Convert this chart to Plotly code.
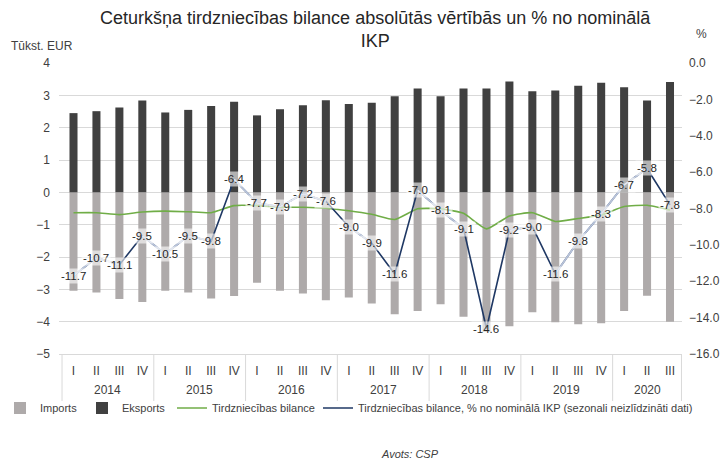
import plotly.graph_objects as go

years = ["2014"] * 4 + ["2015"] * 4 + ["2016"] * 4 + ["2017"] * 4 + ["2018"] * 4 + ["2019"] * 4 + ["2020"] * 3
quarters = (["I", "II", "III", "IV"] * 7)[:27]

exports = [2.45, 2.51, 2.62, 2.84, 2.47, 2.55, 2.67, 2.80, 2.38, 2.57, 2.69, 2.85, 2.73, 2.77,
           2.97, 3.21, 2.97, 3.21, 3.21, 3.43, 3.13, 3.15, 3.30, 3.39, 3.25, 2.84, 3.41]
imports = [-3.04, -3.10, -3.30, -3.39, -3.04, -3.10, -3.28, -3.21, -2.80, -3.04, -3.13, -3.34, -3.25, -3.44,
           -3.77, -3.67, -3.46, -3.85, -4.32, -4.14, -3.71, -4.02, -4.08, -4.05, -3.67, -3.20, -4.00]
balance = [-0.63, -0.63, -0.69, -0.61, -0.58, -0.60, -0.63, -0.41, -0.41, -0.46, -0.46, -0.49, -0.57, -0.68,
           -0.84, -0.51, -0.51, -0.65, -1.13, -0.73, -0.63, -0.90, -0.81, -0.70, -0.44, -0.40, -0.55]
balance_pct = [-11.7, -10.7, -11.1, -9.5, -10.5, -9.5, -9.8, -6.4, -7.7, -7.9, -7.2, -7.6, -9.0, -9.9,
               -11.6, -7.0, -8.1, -9.1, -14.6, -9.2, -9.0, -11.6, -9.8, -8.3, -6.7, -5.8, -7.8]

# segments of the % line that appear pale in the reference (style only)
pale_segments = [0, 1, 3, 4, 5, 7, 8, 9, 10, 12, 15, 16, 19, 21, 22, 23, 24]

FONT = "Liberation Sans Narrow, Arial Narrow, Liberation Sans, Arial, sans-serif"
TXT = "#404040"
GRID = "#d9d9d9"

cats = [f"{y} {q}" for y, q in zip(years, quarters)]

fig = go.Figure()
fig.add_trace(go.Bar(x=cats, y=imports, name="Imports", marker_color="#aeaaaa",
                     marker_line_width=0, yaxis="y", legend="legend"))
fig.add_trace(go.Bar(x=cats, y=exports, name="Eksports", marker_color="#404040",
                     marker_line_width=0, yaxis="y", legend="legend2"))
fig.add_trace(go.Scatter(x=cats, y=balance, name="Tirdzniecības bilance", mode="lines",
                         line=dict(color="#70ad47", width=1.6, shape="spline", smoothing=0.5),
                         yaxis="y", legend="legend3"))
fig.add_trace(go.Scatter(x=cats, y=balance_pct,
                         name="Tirdzniecības bilance, % no nominālā IKP (sezonali neizlīdzināti dati)",
                         mode="lines", line=dict(color="#1f3864", width=1.6), yaxis="y2",
                         legend="legend4"))

# pale overlay segments
px_c, py = [], []
for i in pale_segments:
    for j in (i, i + 1):
        px_c.append(cats[j]); py.append(balance_pct[j])
    px_c.append(cats[i + 1]); py.append(None)
fig.add_trace(go.Scatter(x=px_c, y=py, mode="lines", showlegend=False, hoverinfo="skip",
                         connectgaps=False, line=dict(color="#b9c4da", width=1.8), yaxis="y2"))

annots = []
for i, v in enumerate(balance_pct):
    annots.append(dict(x=i, y=v, xref="x", yref="y2", text=f"{v:.1f}", showarrow=False,
                       font=dict(family="Liberation Sans, Arial", size=11.5, color="#262626"),
                       bgcolor="rgba(255,255,255,0.6)", borderpad=1))

# plot area in pixels: x 58.5..682.3, y 63..354
def px2paper(px, py_):
    return (px - 58.5) / 623.8, (354 - py_) / 291.0

# year group labels and dividers, derived from the category list
shapes = []
groups = []
for i, y in enumerate(years):
    if not groups or groups[-1][0] != y:
        groups.append([y, i, i])
    else:
        groups[-1][2] = i
_, y_year = px2paper(0, 390)
_, y_div = px2paper(0, 401)
for y, a, b in groups:
    annots.append(dict(x=(a + b) / 2, y=y_year, xref="x", yref="paper", text=y, showarrow=False,
                       xanchor="center", yanchor="middle", font=dict(family=FONT, size=12, color=TXT)))
    shapes.append(dict(type="line", xref="x", yref="paper", x0=a - 0.5, x1=a - 0.5, y0=0, y1=y_div,
                       line=dict(color=GRID, width=1)))
shapes.append(dict(type="line", xref="x", yref="paper", x0=groups[-1][2] + 0.5, x1=groups[-1][2] + 0.5,
                   y0=0, y1=y_div, line=dict(color=GRID, width=1)))

tx, ty = px2paper(375, 30)
annots.append(dict(x=tx, y=ty, xref="paper", yref="paper", showarrow=False, xanchor="center",
                   yanchor="middle",
                   text="Ceturkšņa tirdzniecības bilance absolūtās vērtībās un % no nominālā<br>IKP",
                   font=dict(family="Liberation Sans, Arial", size=18, color="#262626")))
ax_, ay_ = px2paper(8, 46)
annots.append(dict(x=ax_, y=ay_, xref="paper", yref="paper", text="Tūkst. EUR", showarrow=False,
                   xanchor="left", yanchor="middle", font=dict(family=FONT, size=12, color=TXT)))
ax_, ay_ = px2paper(694, 34)
annots.append(dict(x=ax_, y=ay_, xref="paper", yref="paper", text="%", showarrow=False,
                   xanchor="left", yanchor="middle", font=dict(family=FONT, size=12, color=TXT)))
ax_, ay_ = px2paper(410, 454)
annots.append(dict(x=ax_, y=ay_, xref="paper", yref="paper", text="<i>Avots: CSP</i>",
                   showarrow=False, xanchor="center", yanchor="middle",
                   font=dict(family=FONT, size=11, color=TXT)))

def leg(text_x):
    return dict(orientation="h", x=(text_x - 40) / 722, xanchor="left", y=1 - 408 / 459,
                yanchor="middle", xref="container", yref="container",
                font=dict(family=FONT, size=11, color=TXT), itemwidth=30,
                bgcolor="rgba(0,0,0,0)", borderwidth=0)

fig.update_layout(
    template="none",
    annotations=annots,
    shapes=shapes,
    width=722, height=459,
    margin=dict(l=58.5, r=39.7, t=63, b=105, autoexpand=False),
    paper_bgcolor="white", plot_bgcolor="white",
    barmode="relative", bargap=0.65,
    font=dict(family=FONT, size=12, color=TXT),
    xaxis=dict(type="category", tickmode="array", tickvals=cats, ticktext=quarters,
               showgrid=False, showline=True, linecolor=GRID, linewidth=1, ticks="",
               ticklabelstandoff=6, tickangle=0,
               tickfont=dict(family=FONT, size=12, color=TXT), automargin=False),
    yaxis=dict(range=[-5, 4], dtick=1, showgrid=True, gridcolor=GRID, gridwidth=1,
               zeroline=False, ticks="", showline=False, automargin=False, ticklabelstandoff=8,
               tickfont=dict(family=FONT, size=12, color=TXT)),
    yaxis2=dict(range=[-16, 0], dtick=2, tickformat=".1f", overlaying="y", side="right",
                showgrid=False, zeroline=False, ticks="", showline=False, automargin=False,
                ticklabelstandoff=6,
                tickfont=dict(family=FONT, size=12, color=TXT)),
    legend=leg(37),
    legend2=leg(122),
    legend3=leg(212),
    legend4=leg(358),
    showlegend=True,
)

fig.write_html("out.html", config={"displayModeBar": False},
               post_script="document.body.style.margin='0px';")
